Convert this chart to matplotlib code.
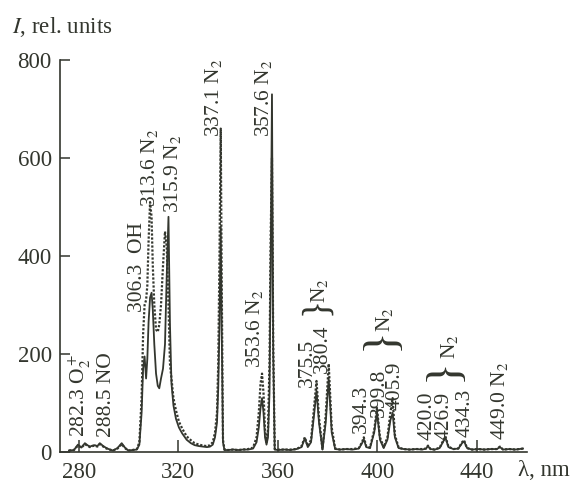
import matplotlib
matplotlib.use('Agg')
import matplotlib.pyplot as plt

# --- Spectrum data ---
# wavelength grid shared by both curves, nm
wavelength = [
    276.0, 278.0, 279.6, 281.0, 282.4, 283.4, 284.4, 285.4, 286.4, 287.4, 288.4,
    289.8, 291.1, 292.4, 293.7, 295.5, 297.2, 298.5, 299.8, 301.5, 303.3,
    304.3, 305.2, 305.8, 306.4, 307.0, 307.5, 308.0, 308.6, 309.2, 309.7,
    310.3, 311.0, 311.7, 312.3, 313.0, 313.8, 314.6, 315.3, 316.0, 316.6,
    317.2, 318.0, 319.0, 320.2, 321.5, 323.3, 325.0, 326.5, 328.3, 330.0, 331.5,
    332.7, 333.8, 334.7, 335.5, 336.0, 336.5, 337.0, 337.4, 337.9, 338.5,
    340.0, 342.0, 344.0, 346.0, 348.0, 350.0, 351.4, 352.3, 353.0, 353.6,
    354.2, 354.8, 355.4, 356.0, 356.6, 357.1, 357.6, 358.1, 358.7,
    360.0, 362.5, 365.0, 367.5, 369.5, 370.8, 372.0, 373.3, 374.5, 375.5,
    376.5, 377.9, 379.2, 380.4, 381.6, 383.0, 385.0, 387.5, 390.0, 392.5,
    393.8, 394.5, 395.5, 397.0, 398.7, 399.8, 401.0, 402.5, 404.0, 405.2,
    406.1, 407.0, 408.5, 410.5, 413.0, 415.5, 418.0,
    419.5, 420.3, 421.3, 423.0, 425.0, 426.3, 427.3, 428.5, 430.5, 432.5, 434.0,
    434.8, 436.0, 438.0, 440.5, 443.0, 445.5, 448.0, 449.2, 450.5, 453.0,
    455.5, 458.5,
]

# solid curve, rel. units
intensity_solid = [
    3, 4, 15, 9, 18, 14, 11, 13, 14, 12, 18,
    12, 8, 5, 3, 8, 18, 9, 3, 4, 5,
    15, 80, 170, 195, 150, 190, 265, 315, 325, 290,
    220, 160, 135, 130, 150, 170, 220, 360, 480, 260,
    140, 95, 68, 50, 38, 25, 18, 14, 12, 11, 10,
    11, 15, 30, 60, 130, 260, 460, 250, 20, 4,
    4, 5, 4, 5, 5, 7, 20, 50, 90, 110,
    80, 30, 15, 30, 120, 400, 730, 200, 5,
    4, 5, 4, 6, 10, 28, 10, 20, 75, 125,
    60, 5, 60, 150, 40, 6, 5, 6, 5, 7,
    18, 26, 10, 8, 40, 82, 25, 8, 25, 65,
    80, 30, 8, 6, 5, 6, 5,
    7, 12, 6, 5, 8, 20, 30, 10, 6, 7, 18,
    22, 8, 5, 6, 5, 6, 6, 10, 5, 6,
    5, 7,
]

# dotted curve, rel. units
intensity_dotted = [
    3, 4, 13, 9, 16, 13, 10, 12, 13, 11, 16,
    11, 7, 5, 3, 7, 16, 8, 3, 4, 6,
    20, 110, 240, 300, 310, 340, 430, 510, 480, 380,
    300, 250, 245, 260, 300, 380, 450, 420, 300, 180,
    150, 110, 85, 62, 48, 32, 24, 18, 15, 13, 12,
    14, 20, 40, 80, 180, 400, 660, 350, 25, 5,
    4, 5, 4, 5, 6, 9, 30, 80, 140, 160,
    120, 45, 20, 45, 180, 450, 600, 220, 6,
    5, 5, 5, 6, 12, 30, 12, 25, 90, 145,
    70, 6, 75, 180, 50, 7, 5, 6, 6, 8,
    20, 30, 12, 9, 45, 90, 30, 10, 30, 80,
    110, 35, 9, 6, 5, 6, 6,
    7, 13, 6, 5, 9, 22, 32, 11, 6, 7, 20,
    24, 8, 5, 6, 5, 6, 6, 11, 5, 6,
    5, 7,
]

# line labels: text, x (nm), y of text bottom (rel. units)
label_text = ['282.3 O$_2^+$', '288.5 NO', '306.3  OH', '313.6 N$_2$', '315.9 N$_2$',
              '337.1 N$_2$', '357.6 N$_2$', '353.6 N$_2$', '375.5', '380.4',
              '394.3', '399.8', '405.9', '420.0', '426.9', '434.3', '449.0 N$_2$',
              'N$_2$', 'N$_2$', 'N$_2$']
label_x = [280.4, 290.9, 303.7, 308.5, 317.8, 333.9, 354.0, 350.4, 371.7, 377.7,
           393.4, 400.6, 407.0, 419.9, 426.7, 435.2, 449.2, 376.9, 403.0, 429.1]
label_y = [31, 31, 286, 500, 488, 643, 643, 171, 133, 161,
           39, 71, 86, 24, 24, 31, 24, 304, 244, 190]

# group braces: centre x (nm), centre y, font size (sets width)
brace_x = [375.3, 401.6, 426.9]
brace_y = [297, 232, 168]
brace_size = [27, 34, 34]

ink = '#33362e'
plt.rcParams['font.family'] = ['Liberation Serif', 'DejaVu Serif']
plt.rcParams['mathtext.fontset'] = 'stix'

fig = plt.figure(figsize=(5.84, 4.84), dpi=100)
ax = fig.add_axes([60 / 584, 32 / 484, 467 / 584, 392 / 484])

ax.plot(wavelength, intensity_solid, color=ink, linewidth=1.3)
ax.plot(wavelength, intensity_dotted, color=ink, linewidth=1.6, linestyle=(0, (1, 0.8)))

ax.set_xlim(272.4, 460.1)
ax.set_ylim(0, 800)
ax.set_xticks([280, 320, 360, 400, 440])
ax.set_yticks([0, 200, 400, 600, 800])
ax.tick_params(direction='in', length=7, width=1.1, color=ink, labelcolor=ink,
               labelsize=16.5)
ax.tick_params(axis='x', length=9, pad=7)
ax.tick_params(axis='y', pad=6)
for side in ['top', 'right']:
    ax.spines[side].set_visible(False)
for side in ['left', 'bottom']:
    ax.spines[side].set_color(ink)
    ax.spines[side].set_linewidth(1.2)

for t, x, y in zip(label_text, label_x, label_y):
    ax.text(x, y, t, rotation=90, ha='center', va='bottom', fontsize=15.5,
            color=ink)

for x, y, s in zip(brace_x, brace_y, brace_size):
    ax.text(x, y, '}', rotation=90, ha='center', va='center', fontsize=s,
            color=ink)

fig.text(12 / 584, 1 - 27 / 484, '$I$, rel. units', ha='left', va='center',
         fontsize=16.5, color=ink)
fig.text(518 / 584, 1 - 470 / 484, 'λ, nm', ha='left', va='center',
         fontsize=16.5, color=ink)

fig.savefig('out.png', dpi=100, facecolor='white')
